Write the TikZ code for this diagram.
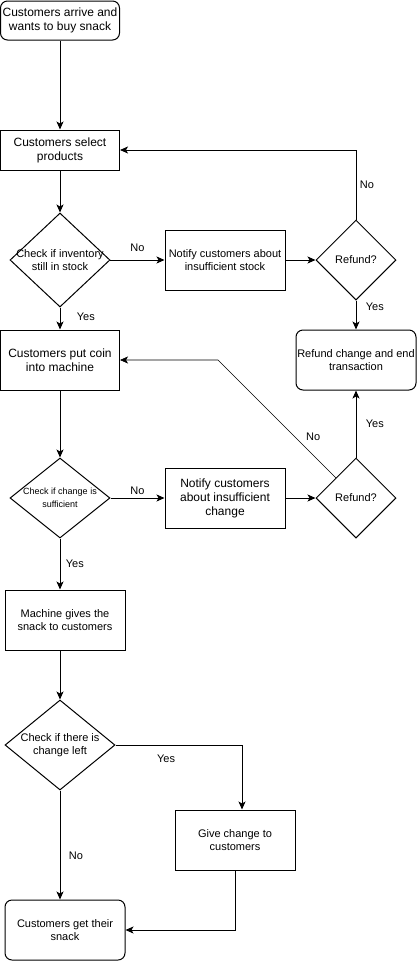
\documentclass[tikz,border=0pt]{standalone}
\usepackage{fontspec}
\setmainfont{Liberation Sans}
\usetikzlibrary{shapes.geometric,arrows.meta,positioning}

\begin{document}
\begin{tikzpicture}[x=1pt, y=-1pt, line width=1pt, >={Stealth[length=8pt,width=7pt,inset=2pt]},
                    box node/.style={draw,rectangle,minimum width=120pt,minimum height=60pt,
                      inner sep=0pt,align=center,font=\fontsize{12}{14}\selectfont},
                    round node/.style={box node,rounded corners=7pt},
                    decision node/.style={draw,diamond,inner sep=0pt,minimum width=100pt,minimum height=80pt},
                    dtext/.style={font=\fontsize{11}{13}\selectfont,align=center,inner sep=0pt}]

  \useasboundingbox (0,0) rectangle (417,962);

  \node[round node, minimum width=119pt, minimum height=39pt] (1) at (60,20.5) {Customers arrive and\\wants to buy snack};
  \node[box node, minimum width=119pt, minimum height=40pt] (2) [below of=1, node distance=129.5pt] {Customers select\\products};
  \node[decision node, minimum height=94pt, label={[dtext]center:Check if inventory\\still in stock}] (3) [below of=2, node distance=110pt] {};
  \node[box node, font=\fontsize{11}{13}\selectfont] (4) [right of=3, node distance=165pt] {Notify customers about\\insufficient stock};
  \node[decision node, minimum width=80pt, label={[dtext]center:Refund?}] (5) [right of=4, node distance=131pt] {};
  \node[round node, font=\fontsize{11}{13}\selectfont] (6) [below of=5, node distance=100pt] {Refund change and end\\transaction};
  \node[box node, minimum width=119pt] (7) [below of=3, node distance=100pt] {Customers put coin\\into machine};
  \node[decision node, label={[dtext,font=\fontsize{9}{13}\selectfont]center:Check if change is\\sufficient}] (8) [below of=7, node distance=138pt] {};
  \node[box node] (9) [right of=8, node distance=165pt] {Notify customers\\about insufficient\\change};
  \node[decision node, minimum width=80pt, label={[dtext]center:Refund?}] (10) [right of=9, node distance=131pt] {};
  \node[box node, font=\fontsize{11}{13}\selectfont] (11) [below of=8, node distance=122pt, xshift=5pt] {Machine gives the\\snack to customers};
  \node[decision node, minimum width=110pt, minimum height=90pt, label={[dtext]center:Check if there is\\change left}] (12) [below of=8, node distance=247pt] {};
  \node[box node, font=\fontsize{11}{13}\selectfont] (13) [below of=12, node distance=95pt, xshift=175pt] {Give change to\\customers};
  \node[round node, font=\fontsize{11}{13}\selectfont] (14) [below of=12, node distance=185pt, xshift=5pt] {Customers get their\\snack};
  \coordinate[right of=7, node distance=158pt] (c1);

  \path[->, every node/.style={font=\fontsize{11}{13}\selectfont}]
    (1) edge (2)
    (2) edge (3)
    (3) edge node[above, yshift=5pt] {No} (4)
        edge node[right, xshift=13pt, yshift=2pt] {Yes} (7)
    (4) edge (5)
    (5) edge node[right, pos=0.2, xshift=6pt] {Yes} (6)
    (7) edge (8)
    (8) edge node[above] {No} (9)
    (9) edge (10)
    (10) edge node[right, xshift=6pt] {Yes} (6);

  \begin{scope}[->, every node/.style={font=\fontsize{11}{13}\selectfont}]
    \draw (5.north) |- node[right, pos=0.25] {No} (2.east);
    \draw[line width=0.6pt] (10.north west) -- node[right, pos=0.35, xshift=8pt] {No} (c1) -- (7.east);
    \draw (8.south) -- node[right, xshift=2pt] {Yes} (8.south |- 11.north);
    \draw (12.north |- 11.south) -- (12.north);
    \draw (12.east) -| node[below, pos=0.2, yshift=-6pt] {Yes} ([xshift=7pt]13.north);
    \draw (12.south) -- node[right, pos=0.6, xshift=5pt] {No} (12.south |- 14.north);
    \draw (13.south) |- (14.east);
  \end{scope}
\end{tikzpicture}
\end{document}
